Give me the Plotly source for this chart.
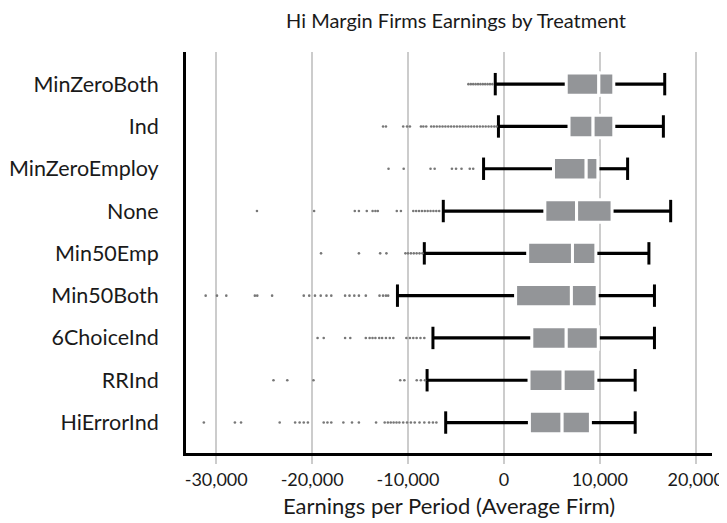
import plotly.graph_objects as go

categories = ["MinZeroBoth", "Ind", "MinZeroEmploy", "None", "Min50Emp",
              "Min50Both", "6ChoiceInd", "RRInd", "HiErrorInd"]

lower_whisker = [-900, -570, -2120, -6320, -8300, -11100, -7400, -8010, -6070]
q1 = [6500, 6790, 5170, 4270, 2480, 1220, 2910, 2620, 2660]
median = [9900, 9300, 8580, 7580, 7150, 7040, 6500, 6180, 6070]
q3 = [11460, 11460, 9800, 11280, 9590, 9730, 9840, 9590, 9020]
upper_whisker = [16770, 16630, 12900, 17390, 15120, 15700, 15700, 13690, 13690]

outliers = {
    "MinZeroBoth": [-3700, -3450, -3200, -2950, -2700, -2450, -2200, -1950, -1700, -1450, -1200],
    "Ind": [-12600, -12300, -10500, -10100, -9800, -8650, -8400, -8100, -7580, -7300, -7000,
            -6700, -6400, -6100, -5800, -5500, -5200, -4900, -4600, -4300, -4000, -3700,
            -3400, -3100, -2800, -2500, -2200, -1900, -1600, -1300, -1000, -750],
    "MinZeroEmploy": [-12030, -10450, -7650, -7220, -5420, -4990, -4420, -3560, -3200],
    "None": [-25750, -19790, -15550, -15120, -14300, -13690, -13400, -13150, -11170, -10740,
             -9450, -9150, -8850, -8550, -8250, -7950, -7650, -7350, -7050, -6750],
    "Min50Emp": [-19070, -15120, -12900, -12250, -10270, -10000, -9700, -9400, -9100, -8800, -8500],
    "Min50Both": [-31100, -29920, -28950, -25970, -25720, -24170, -20870, -20300, -19700, -19100,
                  -18500, -18000, -16560, -16100, -15600, -15120, -14400, -12970, -12600,
                  -12300, -12070],
    "6ChoiceInd": [-19430, -18790, -16560, -16020, -14400, -14000, -13700, -13400, -13000,
                   -12700, -12300, -11900, -11530, -10170, -9800, -9450, -9100, -8700, -8300],
    "RRInd": [-24030, -22590, -19860, -10810, -10380, -9090, -8660, -8230],
    "HiErrorInd": [-31290, -28050, -27410, -23380, -21770, -21300, -20870, -20440, -18790,
                   -18400, -18000, -16740, -15840, -15120, -13330, -12430, -12100, -11800,
                   -11500, -11200, -10900, -10500, -10100, -9700, -9300, -8800, -8300,
                   -7800, -7400, -7040],
}

tick_vals = [-30000, -20000, -10000, 0, 10000, 20000]
tick_labels = ["-30,000", "-20,000", "-10,000", "0", "10,000", "20,000"]

FONT = "Lato"
BOX_GRAY = "#939598"

fig = go.Figure()

# whiskers (thin black bars so the white box border can sit on top)
fig.add_trace(go.Bar(
    y=categories, base=lower_whisker,
    x=[a - b for a, b in zip(q1, lower_whisker)],
    orientation="h", width=0.075, marker=dict(color="black", line_width=0),
    hoverinfo="skip",
))
fig.add_trace(go.Bar(
    y=categories, base=q3,
    x=[a - b for a, b in zip(upper_whisker, q3)],
    orientation="h", width=0.075, marker=dict(color="black", line_width=0),
    hoverinfo="skip",
))

# box halves, white outline gives the median gap
fig.add_trace(go.Bar(
    y=categories, base=q1, x=[m - a for m, a in zip(median, q1)],
    orientation="h", width=0.53,
    marker=dict(color=BOX_GRAY, line=dict(color="white", width=3)),
))
fig.add_trace(go.Bar(
    y=categories, base=median, x=[b - m for b, m in zip(q3, median)],
    orientation="h", width=0.53,
    marker=dict(color=BOX_GRAY, line=dict(color="white", width=3)),
))

# whisker caps
fig.add_trace(go.Scatter(
    x=lower_whisker + upper_whisker, y=categories + categories, mode="markers",
    marker=dict(symbol="line-ns", size=16, line=dict(color="black", width=3)),
))

# outliers
out_x, out_y = [], []
for cat in categories:
    out_x += outliers[cat]
    out_y += [cat] * len(outliers[cat])
fig.add_trace(go.Scatter(
    x=out_x, y=out_y, mode="markers",
    marker=dict(symbol="circle", size=2.6, color="#777777"),
))

# the page body adds an 8px offset, margins account for it
fig.update_layout(
    width=719, height=515,
    barmode="overlay",
    showlegend=False,
    plot_bgcolor="white", paper_bgcolor="white",
    margin=dict(l=178, r=15, t=44, b=70),
    font=dict(family=FONT, color="#1a1a1a"),
    title=dict(text="Hi Margin Firms Earnings by Treatment", x=448 / 719, xanchor="center",
               y=1 - 13 / 515, yanchor="middle", font=dict(size=20, family=FONT)),
)
fig.update_xaxes(
    range=[-33150, 21700], tickvals=tick_vals, ticktext=tick_labels,
    showgrid=True, gridcolor="#cccccc", gridwidth=1.5, zeroline=False,
    showline=True, linecolor="black", linewidth=3,
    ticks="outside", ticklen=8, tickcolor="#cccccc", tickwidth=1.5,
    tickfont=dict(size=18), automargin=False, ticklabeloverflow="allow",
    title=dict(text="Earnings per Period (Average Firm)", font=dict(size=22), standoff=11),
)
fig.update_yaxes(
    type="category", categoryorder="array", categoryarray=categories,
    range=[8.72, -0.76], showgrid=False, zeroline=False,
    showline=True, linecolor="black", linewidth=3, automargin=False,
    ticks="", ticklabelstandoff=20, tickfont=dict(size=21.5),
)

fig.write_html("out.html")
